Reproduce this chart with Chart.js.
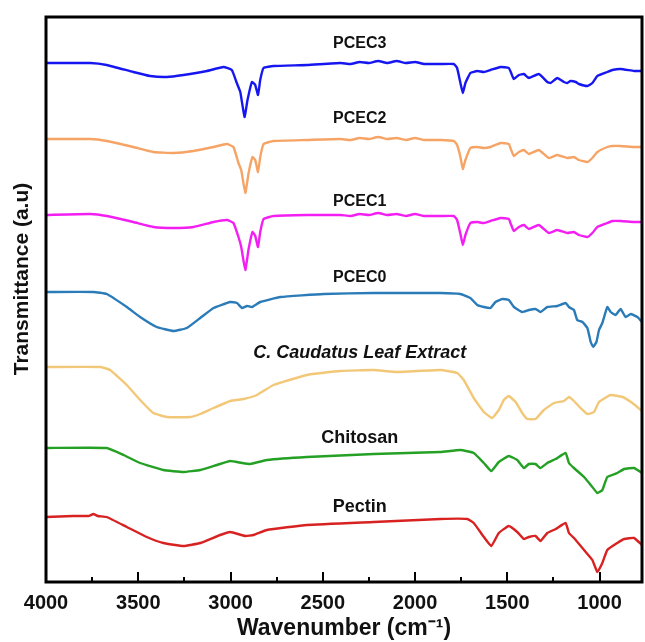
<!DOCTYPE html>
<html>
<head>
<meta charset="utf-8">
<script src="https://cdn.jsdelivr.net/npm/chart.js@4"></script>
<style>
  html, body { margin: 0; padding: 0; background: #fff; }
  #wrap { width: 645px; height: 642px; }
</style>
</head>
<body>
<div id="wrap"><canvas id="ftirChart"></canvas></div>
<script>
// wavenumber ticks (cm-1)
const majorTicks = [4000, 3500, 3000, 2500, 2000, 1500, 1000];
const minorTicks = [3750, 3250, 2750, 2250, 1750, 1250];

// spectra (transmittance, arbitrary units incl. stacking offset)
const pcec3Wave = [4000, 3760, 3671, 3527, 3436, 3345, 3255, 3128, 3038, 2993, 2966, 2947, 2924, 2908, 2884, 2866, 2851, 2839, 2821, 2767, 2586, 2405, 2350, 2300, 2250, 2200, 2150, 2100, 2050, 2000, 1950, 1862, 1790, 1772, 1754, 1741, 1727, 1700, 1663, 1627, 1591, 1537, 1492, 1479, 1465, 1437, 1410, 1383, 1329, 1283, 1265, 1229, 1193, 1175, 1157, 1129, 1112, 1066, 1039, 1012, 958, 931, 886, 813, 770];
const pcec3T = [519, 519, 517, 510, 506, 505, 507, 511, 515, 512, 499, 490, 465, 482, 500, 497, 487, 502, 514, 516, 517, 519, 518, 520, 519, 521, 519, 521, 519, 520, 518, 518, 518, 514, 499, 489, 499, 509, 511, 510, 512, 515, 514, 509, 503, 507, 508, 504, 508, 500, 499, 504, 500, 499, 501, 500, 498, 496, 499, 506, 510, 512, 513, 511, 511];

const pcec2Wave = [4000, 3760, 3671, 3527, 3418, 3309, 3201, 3092, 3020, 2984, 2957, 2942, 2920, 2902, 2881, 2866, 2851, 2839, 2821, 2767, 2586, 2405, 2350, 2300, 2250, 2200, 2150, 2100, 2050, 2000, 1950, 1862, 1790, 1772, 1754, 1741, 1727, 1700, 1663, 1627, 1591, 1537, 1492, 1479, 1465, 1437, 1410, 1383, 1329, 1275, 1229, 1175, 1139, 1112, 1066, 1039, 1012, 958, 931, 886, 813, 770];
const pcec2T = [443, 443, 441, 435, 430, 429, 431, 435, 438, 435, 419, 412, 389, 409, 425, 422, 410, 425, 438, 441, 442, 443, 442, 444, 443, 445, 443, 444, 442, 444, 442, 442, 441, 437, 425, 413, 422, 434, 435, 434, 435, 439, 438, 432, 426, 430, 432, 428, 432, 424, 427, 424, 425, 422, 420, 424, 430, 435, 436, 436, 435, 435];

const pcec1Wave = pcec2Wave;
const pcec1T = [367, 368, 366, 360, 355, 354, 355, 360, 362, 359, 345, 335, 312, 333, 350, 346, 335, 350, 363, 366, 367, 367, 366, 368, 367, 369, 367, 368, 366, 368, 366, 366, 366, 362, 348, 337, 347, 359, 360, 359, 361, 364, 363, 357, 351, 355, 357, 353, 357, 349, 352, 349, 350, 347, 345, 349, 355, 359, 361, 361, 360, 360];

const pcec0Wave = [4000, 3743, 3671, 3562, 3490, 3400, 3309, 3237, 3164, 3092, 3002, 2965, 2938, 2911, 2884, 2839, 2730, 2495, 2224, 1862, 1754, 1700, 1663, 1627, 1591, 1564, 1527, 1492, 1464, 1419, 1383, 1347, 1320, 1283, 1229, 1184, 1166, 1139, 1121, 1093, 1066, 1048, 1034, 1017, 1003, 985, 958, 940, 913, 886, 859, 831, 795, 770];
const pcec0T = [290, 290, 288, 275, 265, 255, 251, 254, 264, 274, 280, 279, 274, 276, 275, 280, 285, 288, 289, 289, 288, 284, 277, 275, 274, 280, 283, 282, 275, 270, 272, 273, 270, 275, 276, 279, 275, 272, 262, 260, 254, 240, 235, 240, 252, 259, 275, 270, 267, 273, 265, 268, 265, 260];

const extractWave = [4000, 3707, 3653, 3562, 3490, 3418, 3345, 3219, 3164, 3092, 3002, 2929, 2857, 2767, 2586, 2405, 2224, 2097, 1862, 1772, 1736, 1682, 1627, 1582, 1546, 1519, 1492, 1455, 1419, 1392, 1347, 1302, 1247, 1193, 1166, 1139, 1103, 1066, 1030, 1003, 940, 876, 822, 770];
const extractT = [215, 215, 212, 197, 182, 169, 165, 165, 168, 174, 181, 183, 187, 197, 207, 211, 212, 210, 212, 209, 202, 184, 170, 164, 172, 182, 186, 180, 169, 163, 163, 172, 179, 181, 185, 181, 174, 168, 170, 180, 187, 185, 179, 171];

const chitosanWave = [4000, 3671, 3580, 3490, 3364, 3255, 3164, 3074, 3002, 2938, 2893, 2803, 2586, 2224, 1862, 1754, 1682, 1627, 1587, 1546, 1492, 1446, 1410, 1383, 1347, 1320, 1283, 1238, 1184, 1166, 1139, 1084, 1039, 1012, 985, 958, 904, 867, 813, 770];
const chitosanT = [134, 134, 127, 119, 112, 110, 112, 117, 121, 119, 118, 122, 125, 128, 130, 132, 129, 119, 111, 120, 126, 122, 114, 118, 118, 114, 119, 123, 129, 119, 114, 105, 95, 89, 92, 105, 109, 113, 114, 109];

const pectinWave = [4000, 3852, 3770, 3743, 3720, 3671, 3562, 3454, 3364, 3255, 3164, 3056, 3002, 2920, 2875, 2803, 2586, 2224, 1862, 1717, 1682, 1627, 1587, 1546, 1492, 1446, 1410, 1383, 1347, 1320, 1283, 1238, 1184, 1166, 1139, 1084, 1039, 1012, 985, 958, 904, 867, 813, 770];
const pectinT = [65, 66, 66, 68, 66, 65, 55, 45, 39, 36, 39, 47, 50, 46, 47, 52, 57, 60, 63, 63, 59, 45, 36, 49, 56, 50, 43, 45, 46, 41, 49, 53, 59, 49, 44, 32, 22, 10, 19, 32, 39, 43, 44, 37];

const seriesNames = ['PCEC3', 'PCEC2', 'PCEC1', 'PCEC0', 'C. Caudatus Leaf Extract', 'Chitosan', 'Pectin'];
const seriesColors = ['#1616f0', '#f5a466', '#f21ef2', '#2a7bb8', '#f2c878', '#24a024', '#d82222'];
// where each name sits (wavenumber, a.u.)
const labelWave = 2300;
const labelLevels = [538, 463, 380, 304, 229, 144, 75];

const waves = [pcec3Wave, pcec2Wave, pcec1Wave, pcec0Wave, extractWave, chitosanWave, pectinWave];
const values = [pcec3T, pcec2T, pcec1T, pcec0T, extractT, chitosanT, pectinT];

const FONT = '"Liberation Sans", Arial, sans-serif';

const framePlugin = {
  id: 'frame',
  afterDraw(chart) {
    const { ctx, chartArea: a, scales: { x, y } } = chart;
    ctx.save();
    ctx.strokeStyle = '#000';
    ctx.lineWidth = 2;
    const tick = (v, len) => {
      const px = Math.round(x.getPixelForValue(v));
      ctx.beginPath();
      ctx.moveTo(px, a.bottom);
      ctx.lineTo(px, a.bottom - len);
      ctx.stroke();
    };
    majorTicks.forEach((v) => tick(v, 10));
    minorTicks.forEach((v) => tick(v, 5));

    ctx.lineWidth = 3;
    ctx.strokeRect(a.left, a.top, a.right - a.left, a.bottom - a.top);

    ctx.fillStyle = '#111';
    ctx.textAlign = 'center';
    ctx.textBaseline = 'middle';
    seriesNames.forEach((name, i) => {
      const px = x.getPixelForValue(labelWave);
      const py = y.getPixelForValue(labelLevels[i]);
      if (i === 4) ctx.font = `italic bold 18px ${FONT}`;
      else if (i < 4) ctx.font = `bold 16px ${FONT}`;
      else ctx.font = `bold 18px ${FONT}`;
      ctx.fillText(name, px, py);
    });

    ctx.translate(22, 279);
    ctx.rotate(-Math.PI / 2);
    ctx.font = `bold 21px ${FONT}`;
    ctx.fillText('Transmittance (a.u)', 0, 0);
    ctx.restore();
  },
};

new Chart(document.getElementById('ftirChart'), {
  type: 'line',
  data: {
    datasets: seriesNames.map((name, i) => ({
      label: name,
      data: waves[i].map((w, j) => ({ x: w, y: values[i][j] })),
      borderColor: seriesColors[i],
      borderWidth: 2.4,
      pointRadius: 0,
      tension: 0.12,
      fill: false,
    })),
  },
  options: {
    responsive: true,
    maintainAspectRatio: false,
    animation: false,
    devicePixelRatio: 1,
    layout: { padding: { left: 46, top: 17, right: 3, bottom: 0 } },
    scales: {
      x: {
        type: 'linear',
        reverse: true,
        min: 770,
        max: 4000,
        afterBuildTicks: (scale) => {
          scale.ticks = majorTicks.map((v) => ({ value: v }));
        },
        afterFit: (scale) => {
          scale.height = 60;
        },
        grid: { display: false, drawTicks: false },
        border: { display: false },
        ticks: {
          color: '#111',
          padding: 9,
          maxRotation: 0,
          autoSkip: false,
          callback: (value) => String(value),
          font: { family: FONT, size: 20, weight: 'bold' },
        },
        title: {
          display: true,
          text: 'Wavenumber (cm⁻¹)',
          color: '#111',
          padding: { top: 0, bottom: 0 },
          font: { family: FONT, size: 23, weight: 'bold' },
        },
      },
      y: {
        display: false,
        min: 0,
        max: 565,
      },
    },
    plugins: {
      legend: { display: false },
      tooltip: { enabled: false },
    },
  },
  plugins: [framePlugin],
});
</script>
</body>
</html>
